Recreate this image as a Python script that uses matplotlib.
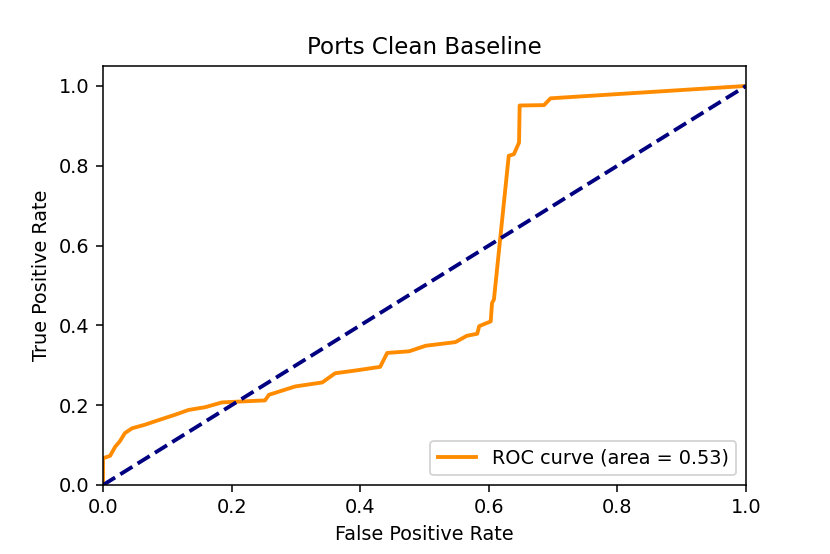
import matplotlib
matplotlib.use('Agg')
import matplotlib.pyplot as plt

# ROC curve points
fpr = [0.0, 0.0, 0.011, 0.019, 0.026, 0.034, 0.045, 0.065, 0.091, 0.112, 0.133,
       0.159, 0.185, 0.211, 0.252, 0.258, 0.299, 0.341, 0.361, 0.393, 0.431,
       0.442, 0.476, 0.502, 0.548, 0.566, 0.582, 0.585, 0.603, 0.605, 0.608,
       0.631, 0.639, 0.647, 0.648, 0.686, 0.696, 1.0]
tpr = [0.0, 0.067, 0.073, 0.096, 0.109, 0.13, 0.142, 0.151, 0.165, 0.176, 0.188,
       0.195, 0.207, 0.209, 0.212, 0.226, 0.247, 0.257, 0.28, 0.287, 0.296,
       0.331, 0.335, 0.349, 0.358, 0.374, 0.379, 0.398, 0.41, 0.456, 0.465,
       0.825, 0.829, 0.858, 0.951, 0.952, 0.969, 1.0]
roc_auc = 0.53

fig = plt.figure(figsize=(6, 554 / (830 / 6)), dpi=830 / 6)
ax = fig.add_axes([103 / 830, 1 - 485 / 554, 643 / 830, 419 / 554])

lw = 2
ax.plot(fpr, tpr, color='darkorange', lw=lw, label='ROC curve (area = %0.2f)' % roc_auc)
ax.plot([0, 1], [0, 1], color='navy', lw=lw, linestyle='--')
ax.set_xlim([0.0, 1.0])
ax.set_ylim([0.0, 1.05])
ax.set_xlabel('False Positive Rate')
ax.set_ylabel('True Positive Rate')
ax.set_title('Ports Clean Baseline')
ax.legend(loc='lower right')

fig.savefig('out.png')
